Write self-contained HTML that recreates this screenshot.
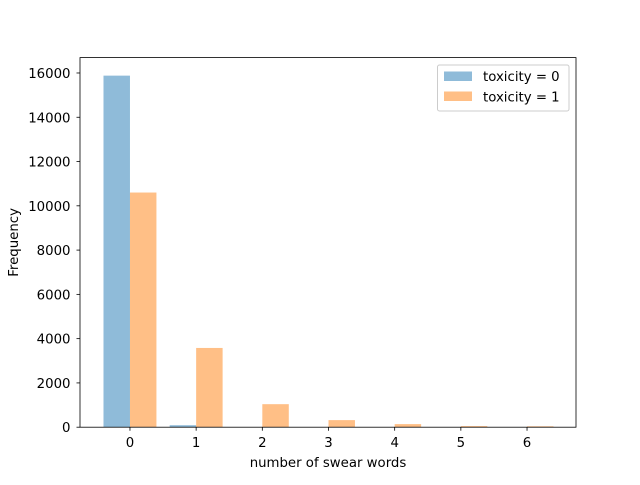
<!DOCTYPE html>
<html><head><meta charset="utf-8"><style>body{margin:0;background:#fff}svg{font-family:"DejaVu Sans","Liberation Sans",sans-serif}</style></head>
<body>
<svg id="c" width="640" height="480" xmlns="http://www.w3.org/2000/svg"></svg>
<script>
const categories=[0,1,2,3,4,5,6];
const tox0=[15880,90,0,0,0,0,0];
const tox1=[10600,3580,1040,320,140,50,40];
const yTicks=[0,2000,4000,6000,8000,10000,12000,14000,16000];
const L=80,R=576,T=57.6,B=427.2;
const xmin=-0.755,xmax=6.74,ymax=16695;
const sx=v=>L+(v-xmin)/(xmax-xmin)*(R-L);
const sy=v=>B-v/ymax*(B-T);
const svg=document.getElementById('c');
const NS='http://www.w3.org/2000/svg';
const FS=13.3;
function mk(t,a,p){const e=document.createElementNS(NS,t);for(const k in a)e.setAttribute(k,a[k]);(p||svg).appendChild(e);return e;}
categories.forEach((c,i)=>{
 let r=mk('rect',{x:sx(c-0.4),y:sy(tox0[i]),width:sx(c)-sx(c-0.4),height:B-sy(tox0[i]),fill:'#1f77b4','fill-opacity':0.5});
 
 
 let r2=mk('rect',{x:sx(c),y:sy(tox1[i]),width:sx(c+0.4)-sx(c),height:B-sy(tox1[i]),fill:'#ff7f0e','fill-opacity':0.5});
 
 
 mk('line',{x1:sx(c),x2:sx(c),y1:B,y2:B+3.5,stroke:'#000','stroke-width':0.8});
 let t=mk('text',{x:sx(c),y:447,'text-anchor':'middle','font-size':FS});t.textContent=c;
 
 
});
yTicks.forEach(v=>{
 mk('line',{x1:L-3.5,x2:L,y1:sy(v),y2:sy(v),stroke:'#000','stroke-width':0.8});
 let t=mk('text',{x:L-9.5,y:sy(v)+5,'text-anchor':'end','font-size':FS});t.textContent=v;
 
 
});
let f=mk('rect',{x:L,y:T,width:R-L,height:B-T,fill:'none',stroke:'#000','stroke-width':0.8});


let xl=mk('text',{x:(L+R)/2,y:467,'text-anchor':'middle','font-size':FS});xl.textContent='number of swear words';


let yl=mk('text',{x:18,y:(T+B)/2,'text-anchor':'middle','font-size':FS,transform:`rotate(-90 18 ${(T+B)/2})`});yl.textContent='Frequency';


let g=mk('g',{});


mk('rect',{x:437.5,y:65,width:131.5,height:46,rx:2,fill:'#fff','fill-opacity':0.8,stroke:'#ccc'},g);
mk('rect',{x:444,y:71.5,width:28,height:9.5,fill:'#1f77b4','fill-opacity':0.5},g);
mk('rect',{x:444,y:91.5,width:28,height:9.5,fill:'#ff7f0e','fill-opacity':0.5},g);
let a=mk('text',{x:483,y:81,'font-size':FS},g);a.textContent='toxicity = 0';
let b=mk('text',{x:483,y:101.5,'font-size':FS},g);b.textContent='toxicity = 1';
</script>
</body></html>
